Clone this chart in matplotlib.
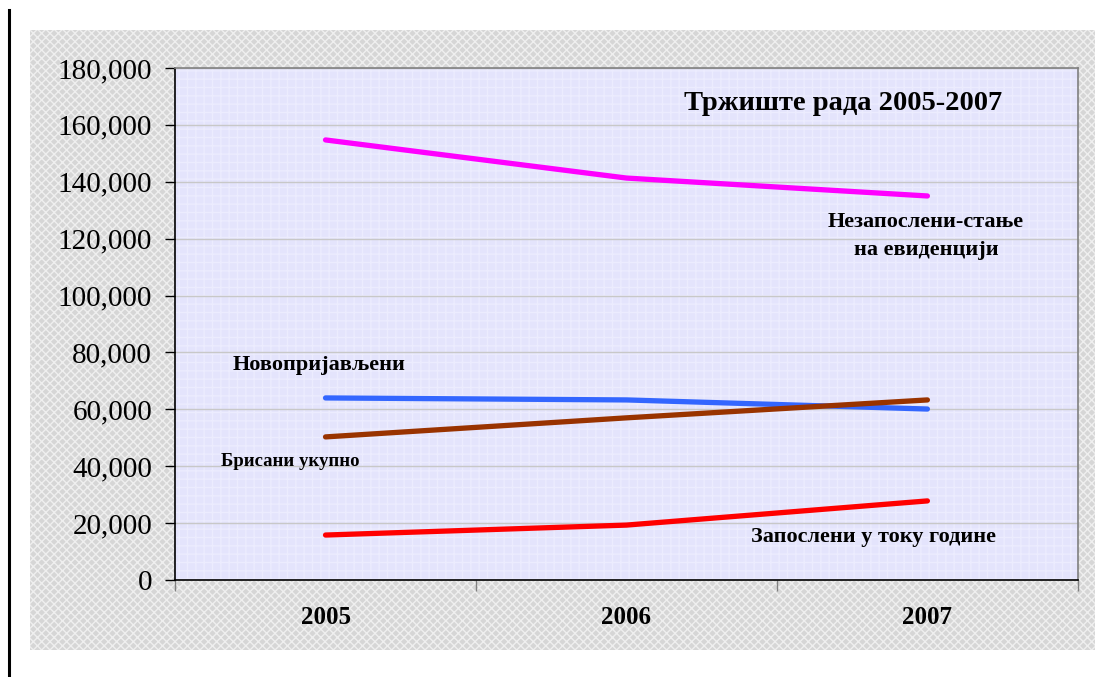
import matplotlib.pyplot as plt
from matplotlib.patches import Rectangle
from matplotlib.lines import Line2D
from matplotlib.ticker import FuncFormatter, FixedLocator

plt.rcParams['font.family'] = ['Liberation Serif', 'DejaVu Serif']
plt.rcParams['hatch.linewidth'] = 1.0

years = ['2005', '2006', '2007']
unemployed = [154700, 141300, 135000]
newRegistered = [64000, 63300, 60100]
removedTotal = [50300, 57000, 63300]
employedDuringYear = [15800, 19300, 27800]

fig = plt.figure(figsize=(11.01, 6.77), dpi=100)

# gray patterned chart area
bg = Rectangle((0.0272, 0.0399), 0.967, 0.916, transform=fig.transFigure,
               facecolor='#d6d6d6', edgecolor='#efefef', hatch='xxxx', lw=0, zorder=-10)
fig.patches.append(bg)
fig.add_artist(Line2D([0.0085, 0.0085], [0.0, 0.985], color='black', lw=2.2,
                      transform=fig.transFigure))

ax = fig.add_axes([0.159, 0.1433, 0.820, 0.7563])
ax.set_zorder(5)
ax.set_facecolor('#e4e4fc')
ax.patch.set_hatch('++')
ax.patch.set_edgecolor('#ececfe')
ax.patch.set_linewidth(0)

x = range(len(years))
ax.plot(x, unemployed, color='#ff00ff', lw=3.8, solid_capstyle='round')
ax.plot(x, newRegistered, color='#3366ff', lw=3.8, solid_capstyle='round')
ax.plot(x, removedTotal, color='#993300', lw=3.8, solid_capstyle='round')
ax.plot(x, employedDuringYear, color='#ff0000', lw=3.8, solid_capstyle='round')

ax.set_xlim(-0.5, 2.5)
ax.set_ylim(0, 180000)
ax.set_yticks(range(0, 180001, 20000))
ax.yaxis.set_major_formatter(FuncFormatter(lambda v, p: f'{int(v):,}'))
ax.tick_params(axis='y', labelsize=21, direction='out', length=7, width=1, pad=9.5)
ax.grid(axis='y', color='#c8c8c8', lw=1)
ax.set_axisbelow(True)

ax.xaxis.set_major_locator(FixedLocator([-0.5, 0.5, 1.5, 2.5]))
ax.set_xticklabels([])
ax.xaxis.set_minor_locator(FixedLocator(list(x)))
ax.set_xticklabels(years, minor=True, fontweight='bold', fontsize=18)
ax.tick_params(axis='x', which='major', direction='out', length=8, width=1, color='#808080')
ax.tick_params(axis='x', which='minor', length=0, pad=19)

ax.spines['left'].set_color('black')
ax.spines['bottom'].set_color('black')
ax.spines['top'].set_color('#808080')
ax.spines['right'].set_color('#808080')
for s in ax.spines.values():
    s.set_linewidth(1.2)

ax.text(1.72, 167500, 'Тржиште рада 2005-2007', fontsize=20.5, fontweight='bold', ha='center', va='center')
ax.text(1.995, 121000, 'Незапослени-стање\nна евиденцији', fontsize=16, fontweight='bold',
        ha='center', va='center', linespacing=1.5)
ax.text(-0.02, 75600, 'Новопријављени', fontsize=16, fontweight='bold', ha='center', va='center')
ax.text(-0.118, 41500, 'Брисани укупно', fontsize=13.5, fontweight='bold', ha='center', va='center')
ax.text(1.82, 15000, 'Запослени у току године', fontsize=16, fontweight='bold', ha='center', va='center')

fig.savefig('out.png', dpi=100)
